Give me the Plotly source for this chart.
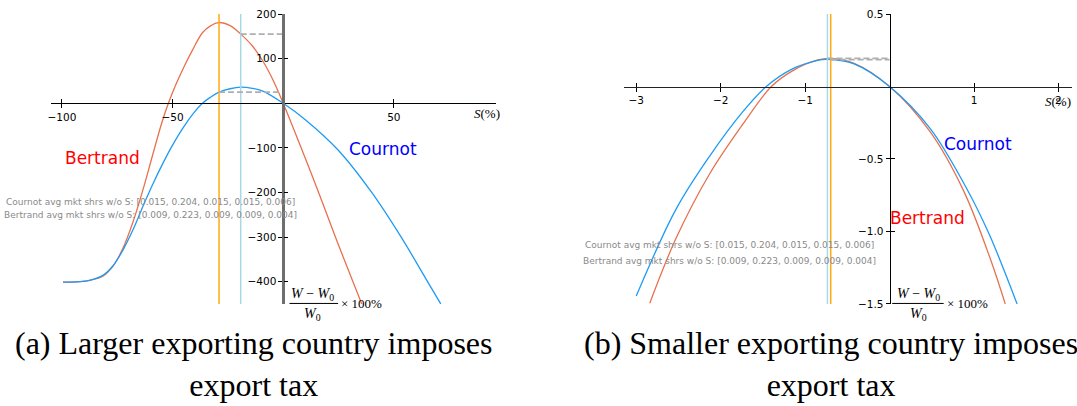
import plotly.graph_objects as go

# ---------------- data ----------------
# Panel (a): larger exporting country imposes export tax
a_bertrand_S = [-99.5, -92, -87.5, -81.5, -77, -72.5, -68, -63.5, -59, -55, -51.9, -48.5,
                -44.7, -41, -36.5, -32.7, -29.3, -24, -19.2, -14, -9, -4.5, 0, 8.2, 16, 23.6, 35.5]
a_bertrand_W = [-401, -400, -397, -388, -366, -326, -268, -196, -116, -46, 0, 42,
                83, 119, 158, 174, 181, 174, 155, 129, 93, 51, 0, -101, -200, -300, -450]
a_cournot_S = [-99.5, -92, -87.5, -81.5, -77, -72.5, -68, -62.7, -59, -54.5, -50.7, -45.5,
               -40.5, -36.5, -33, -29, -24, -19.2, -14, -9.5, 0, 10, 25, 40, 52.9, 64.9, 71.2]
a_cournot_W = [-401, -400, -397, -386, -365, -330, -285, -223, -182, -136, -100, -57,
               -22, 0, 13, 25, 32.5, 36, 33.5, 27.6, 0, -37, -106, -200, -297, -397, -450]
a_opt_bertrand = -29.0      # orange vertical line
a_opt_cournot = -19.2       # light-blue vertical line
a_cross_bertrand = 155      # Bertrand welfare at Cournot optimum
a_cross_cournot = 25        # Cournot welfare at Bertrand optimum
a_xticks = [-100, -50, 50]
a_xticktext = ["\u2212100", "\u221250", "50"]
a_yticks = [200, 100, -100, -200, -300, -400]
a_yticktext = ["200", "100", "\u2212100", "\u2212200", "\u2212300", "\u2212400"]

# Panel (b): smaller exporting country imposes export tax
b_cournot_S = [-3.0, -2.53, -2.13, -1.74, -1.46, -1.15, -0.85, -0.736, -0.42, 0,
               0.484, 0.9, 1.18, 1.51]
b_cournot_W = [-1.446, -0.848, -0.48, -0.175, 0, 0.122, 0.181, 0.187, 0.156, 0,
               -0.292, -0.69, -1.02, -1.5]
b_bertrand_S = [-2.84, -2.53, -2.13, -1.74, -1.40, -1.15, -0.85, -0.70, -0.42, 0,
                0.484, 0.877, 1.2, 1.37]
b_bertrand_W = [-1.495, -1.049, -0.602, -0.262, 0, 0.108, 0.183, 0.194, 0.16, 0,
                -0.315, -0.72, -1.2, -1.5]
b_opt_bertrand = -0.697
b_opt_cournot = -0.736
b_cross_bertrand = 0.194
b_cross_cournot = 0.185
b_xticks = [-3, -2, -1, 1, 2]
b_xticktext = ["\u22123", "\u22122", "\u22121", "1", "2"]
b_yticks = [0.5, -0.5, -1.0, -1.5]
b_yticktext = ["0.5", "\u22120.5", "\u22121.0", "\u22121.5"]

shares_cournot = "Cournot avg mkt shrs w/o S: [0.015, 0.204, 0.015, 0.015, 0.006]"
shares_bertrand = "Bertrand avg mkt shrs w/o S: [0.009, 0.223, 0.009, 0.009, 0.004]"
caption_a = "(a) Larger exporting country imposes<br>export tax"
caption_b = "(b) Smaller exporting country imposes<br>export tax"

# ---------------- layout geometry ----------------
W, H = 1077, 406
def fx(p):
    return p / W
def fy(p):
    return 1 - p / H

a_xrange = [-105, 96]
a_yrange = [-450, 200]
b_xrange = [-3.15, 2.157]
b_yrange = [-1.5, 0.5]
a_xdom = [fx(48), fx(494)]
b_xdom = [fx(622.3), fx(1071.7)]
ydom = [fy(307), fy(8.3)]

def zero_pos(rng, dom):
    return dom[0] + (0 - rng[0]) / (rng[1] - rng[0]) * (dom[1] - dom[0])

BERT = "#E8714D"
COUR = "#1E9BF5"
ORANGE = "#FFAA10"
LBLUE = "#A9D8E8"
DASH = "#AFAFAF"

fig = go.Figure()

def panel(xa, ya, bS, bW, cS, cW, ob, oc, cb, cc, yr):
    fig.add_trace(go.Scatter(x=bS, y=bW, mode="lines", line=dict(color=BERT, width=1.3, shape="spline", smoothing=1.0),
                             xaxis=xa, yaxis=ya, showlegend=False, hoverinfo="skip"))
    fig.add_trace(go.Scatter(x=cS, y=cW, mode="lines", line=dict(color=COUR, width=1.3, shape="spline", smoothing=1.0),
                             xaxis=xa, yaxis=ya, showlegend=False, hoverinfo="skip"))
    fig.add_trace(go.Scatter(x=[oc, oc], y=yr, mode="lines", line=dict(color=LBLUE, width=1.5),
                             xaxis=xa, yaxis=ya, showlegend=False, hoverinfo="skip"))
    fig.add_trace(go.Scatter(x=[ob, ob], y=yr, mode="lines", line=dict(color=ORANGE, width=1.5),
                             xaxis=xa, yaxis=ya, showlegend=False, hoverinfo="skip"))
    fig.add_trace(go.Scatter(x=[oc, 0], y=[cb, cb], mode="lines", line=dict(color=DASH, width=1.8, dash="6px,3px"),
                             xaxis=xa, yaxis=ya, showlegend=False, hoverinfo="skip"))
    fig.add_trace(go.Scatter(x=[ob, 0], y=[cc, cc], mode="lines", line=dict(color=DASH, width=1.8, dash="6px,3px"),
                             xaxis=xa, yaxis=ya, showlegend=False, hoverinfo="skip"))

panel("x", "y", a_bertrand_S, a_bertrand_W, a_cournot_S, a_cournot_W,
      a_opt_bertrand, a_opt_cournot, a_cross_bertrand, a_cross_cournot, a_yrange)
panel("x2", "y2", b_bertrand_S, b_bertrand_W, b_cournot_S, b_cournot_W,
      b_opt_bertrand, b_opt_cournot, b_cross_bertrand, b_cross_cournot, b_yrange)
# dummy traces so the overlay (inside-tick) axes get drawn
for xa, ya in [("x3", "y3"), ("x4", "y4")]:
    fig.add_trace(go.Scatter(x=[None], y=[None], xaxis=xa, yaxis=ya, showlegend=False, hoverinfo="skip"))

tickfont = dict(family="DejaVu Sans", size=10.5, color="black")

def xax(rng, dom, pos, tv, tt, ticks, labels, overlay=None, line=True, lc="black"):
    d = dict(range=rng, domain=dom, anchor="free", position=pos, showgrid=False, zeroline=False,
             tickmode="array", tickvals=tv, ticktext=tt, ticks=ticks, ticklen=4, tickwidth=1,
             tickcolor="black", showticklabels=labels, tickfont=tickfont,
             showline=line, linecolor=lc, linewidth=1)
    if overlay:
        d["overlaying"] = overlay
    return d

a_xpos = zero_pos(a_yrange, ydom)
a_ypos = zero_pos(a_xrange, a_xdom)
b_xpos = zero_pos(b_yrange, ydom)
b_ypos = zero_pos(b_xrange, b_xdom)

lay = dict(
    width=W, height=H, margin=dict(l=0, r=0, t=0, b=0),
    paper_bgcolor="white", plot_bgcolor="white",
    xaxis=xax(a_xrange, a_xdom, a_xpos, a_xticks, a_xticktext, "outside", True),
    yaxis=xax(a_yrange, ydom, a_ypos, a_yticks, a_yticktext, "outside", True, lc="#6E6E6E"),
    xaxis2=xax(b_xrange, b_xdom, b_xpos, b_xticks, b_xticktext, "outside", True, lc="#222222"),
    yaxis2=xax(b_yrange, ydom, b_ypos, b_yticks, b_yticktext, "outside", True),
    xaxis3=xax(a_xrange, a_xdom, a_xpos, a_xticks, a_xticktext, "inside", False, overlay="x", line=False),
    yaxis3=xax(a_yrange, ydom, a_ypos, a_yticks, a_yticktext, "inside", False, overlay="y", line=False),
    xaxis4=xax(b_xrange, b_xdom, b_xpos, b_xticks, b_xticktext, "inside", False, overlay="x2", line=False),
    yaxis4=xax(b_yrange, ydom, b_ypos, b_yticks, b_yticktext, "inside", False, overlay="y2", line=False),
)
lay["yaxis"]["linewidth"] = 2.5
fig.update_layout(**lay)

def ann(text, x, y, xref, yref, size, color="black", family="DejaVu Sans", xanchor="center", yanchor="middle"):
    fig.add_annotation(text=text, x=x, y=y, xref=xref, yref=yref, showarrow=False,
                       font=dict(family=family, size=size, color=color),
                       xanchor=xanchor, yanchor=yanchor)

# curve labels
ann("Bertrand", -81.8, -121.7, "x", "y", 17, "#FF0000")
ann("Cournot", 44.9, -102, "x", "y", 17, "#0000FF")
ann("Cournot", 1.05, -0.40, "x2", "y2", 17, "#0000FF")
ann("Bertrand", 0.452, -0.904, "x2", "y2", 17, "#FF0000")
# market share notes
ann(shares_cournot, -60.1, -221.5, "x", "y", 9.0, "#8A8A8A")
ann(shares_bertrand, -60.1, -251, "x", "y", 9.0, "#8A8A8A")
ann(shares_cournot, -1.90, -1.094, "x2", "y2", 9.0, "#8A8A8A")
ann(shares_bertrand, -1.90, -1.205, "x2", "y2", 9.0, "#8A8A8A")

# axis labels
serif = "Liberation Serif"
ann("<i>S</i>(%)", fx(485), fy(110.5), "paper", "paper", 13, family=serif)
ann("<i>S</i>(%)", fx(1057.5), fy(98), "paper", "paper", 13, family=serif)
for cx, bx0, bx1, tx in [(310, 287.3, 336, 359.5), (918, 891.7, 943.3, 967)]:
    ann("<i>W</i> \u2212 <i>W</i><sub>0</sub>", fx(cx), fy(297), "paper", "paper", 14, family=serif)
    ann("<i>W</i><sub>0</sub>", fx(cx), fy(318), "paper", "paper", 14, family=serif)
    ann("\u00d7 100%", fx(tx), fy(307), "paper", "paper", 13, family=serif)
    fig.add_shape(type="line", xref="paper", yref="paper", x0=fx(bx0), x1=fx(bx1), y0=fy(306.5), y1=fy(306.5),
                  line=dict(color="black", width=1))

# captions
ann(caption_a, fx(251), fy(368.5), "paper", "paper", 32, family=serif)
ann(caption_b, fx(830), fy(368.5), "paper", "paper", 32, family=serif)

fig.write_html("out.html")
